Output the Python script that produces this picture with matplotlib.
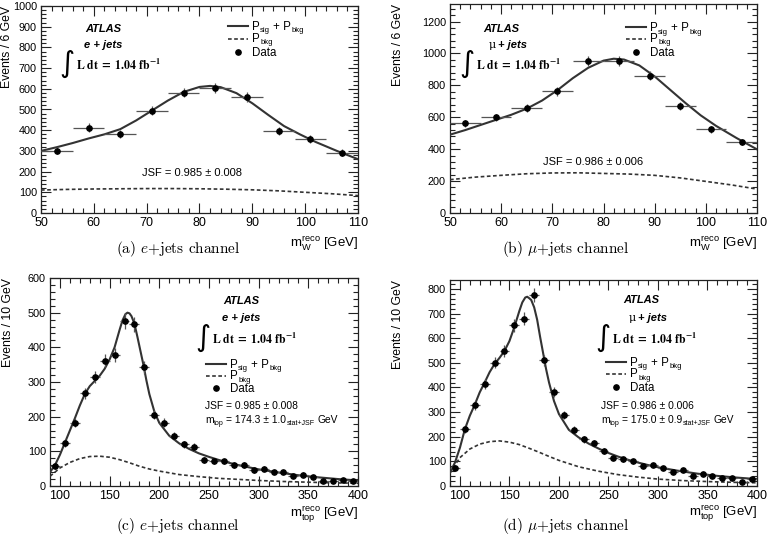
import numpy as np
import matplotlib
matplotlib.use("Agg")
import matplotlib.pyplot as plt
from matplotlib.lines import Line2D
from matplotlib.ticker import MultipleLocator

plt.rcParams['font.family'] = ['Liberation Sans', 'DejaVu Sans']
plt.rcParams['mathtext.fontset'] = 'custom'
plt.rcParams['mathtext.rm'] = 'Liberation Sans'
plt.rcParams['mathtext.it'] = 'Liberation Sans:italic'
plt.rcParams['mathtext.bf'] = 'Liberation Sans:bold'

# ---------------- data ----------------
# (a) e+jets, m_W
w_x = [53, 59, 65, 71, 77, 83, 89, 95, 101, 107]
a_data = [300, 413, 380, 495, 582, 603, 562, 395, 357, 290]
a_err = [17, 20, 19, 22, 24, 25, 24, 20, 19, 17]
w_fit_x = [50, 53, 56, 59, 62, 65, 68, 71, 74, 77, 80, 82, 84, 87, 90, 93, 96, 99, 102, 106, 110]
a_fit = [300, 318, 338, 360, 380, 405, 447, 495, 543, 585, 609, 614, 608, 579, 530, 474, 420, 380, 343, 300, 260]
w_bkg_x = [50, 55, 60, 65, 70, 75, 80, 85, 90, 95, 100, 105, 110]
a_bkg = [111, 114, 116, 117, 118, 118, 117, 115, 112, 107, 100, 93, 84]

# (b) mu+jets, m_W
b_data = [562, 599, 656, 762, 954, 954, 860, 672, 524, 445]
b_err = [24, 24, 26, 28, 31, 31, 29, 26, 23, 21]
b_fit = [491, 520, 552, 584, 616, 654, 705, 770, 845, 910, 955, 967, 962, 925, 856, 773, 690, 612, 546, 470, 399]
b_bkg = [209, 225, 236, 246, 251, 252, 248, 244, 236, 220, 198, 176, 150]

# (c) e+jets, m_top
t_x = [95, 105, 115, 125, 135, 145, 155, 165, 175, 185, 195, 205, 215, 225, 235, 245,
       255, 265, 275, 285, 295, 305, 315, 325, 335, 345, 355, 365, 375, 385, 395]
c_data = [57, 124, 183, 267, 314, 361, 378, 476, 466, 343, 206, 182, 144, 120, 113, 76,
          71, 71, 60, 60, 45, 50, 41, 40, 29, 33, 27, 14, 14, 17, 13]
c_err = [8, 11, 14, 16, 18, 19, 19, 22, 22, 19, 14, 13, 12, 11, 11, 9,
         8, 8, 8, 8, 7, 7, 6, 6, 5, 6, 5, 4, 4, 4, 4]
t_fit_x = [90, 95, 100, 105, 110, 115, 120, 125, 130, 135, 140, 145, 150, 155, 160, 163,
           166, 168, 170, 172, 175, 178, 181, 184, 187, 190, 195, 200, 210, 220, 230, 240,
           250, 260, 270, 280, 290, 300, 320, 340, 360, 380, 400]
c_fit = [40, 60, 90, 125, 160, 195, 232, 265, 288, 303, 318, 338, 365, 400, 450, 478,
         496, 500, 498, 490, 468, 430, 390, 350, 305, 265, 215, 182, 145, 123, 107, 94,
         84, 75, 67, 60, 54, 48, 39, 31, 25, 20, 16]
t_bkg_x = [90, 95, 100, 110, 120, 130, 140, 150, 160, 170, 180, 190, 200, 220, 240, 260,
           280, 300, 325, 350, 375, 400]
c_bkg = [28, 40, 52, 68, 79, 85, 86, 83, 76, 67, 57, 49, 43, 33, 27, 22, 19, 16, 13, 11, 9, 8]

# (d) mu+jets, m_top
d_data = [74, 231, 328, 415, 500, 548, 653, 679, 774, 510, 382, 287, 229, 190, 173, 143,
          115, 109, 101, 82, 85, 72, 55, 65, 42, 50, 39, 31, 31, 18, 27]
d_err = [9, 15, 18, 20, 22, 23, 26, 26, 28, 23, 20, 17, 15, 14, 13, 12,
         11, 10, 10, 9, 9, 8, 7, 8, 6, 7, 6, 6, 6, 4, 5]
d_fit = [55, 95, 155, 230, 285, 330, 380, 420, 462, 495, 520, 548, 588, 645, 710, 745,
         765, 768, 762, 755, 725, 675, 605, 540, 475, 420, 345, 292, 228, 197, 172, 152,
         134, 119, 106, 95, 85, 76, 62, 50, 41, 34, 28]
d_bkg = [52, 85, 115, 150, 170, 180, 183, 178, 168, 153, 137, 120, 104, 78, 60, 46,
         36, 28, 22, 18, 15, 13]

W = 768.0
H = 537.0
fig = plt.figure(figsize=(7.68, 5.37), dpi=100)
renderer = fig.canvas.get_renderer()


def px_axes(l, t, r, b):
    return fig.add_axes([l / W, 1 - b / H, (r - l) / W, (b - t) / H])


def ftext(x, y, s, **kw):
    return fig.text(x / W, 1 - y / H, s, **kw)


def ctext(x, y, pieces):
    """pieces: (string, fontsize, dy_px, gap_px) placed left to right on a baseline."""
    cx = x
    for s, size, dy, gap in pieces:
        cx += gap
        t = ftext(cx, y + dy, s, fontsize=size, ha='left', va='baseline')
        cx += t.get_window_extent(renderer).width


LC = '#333333'
DASH = (0, (2.2, 1.5))
MS = 3.8
LF = 8.3
LS = 5.6


def style(ax, xmaj, xmin, ymaj, ymin):
    ax.xaxis.set_major_locator(MultipleLocator(xmaj))
    ax.xaxis.set_minor_locator(MultipleLocator(xmin))
    ax.yaxis.set_major_locator(MultipleLocator(ymaj))
    ax.yaxis.set_minor_locator(MultipleLocator(ymin))
    ax.tick_params(which='both', direction='in', top=True, right=True,
                   width=0.8, color='#222222')
    ax.tick_params(axis='x', which='major', labelsize=9)
    ax.tick_params(axis='y', which='major', labelsize=7.8)
    ax.tick_params(which='major', length=7, pad=3)
    ax.tick_params(which='minor', length=3.5)
    for s in ax.spines.values():
        s.set_linewidth(0.9)
        s.set_color('#222222')


def draw(ax, x, data, err, xerr, fx, fy, bx, by):
    ax.plot(fx, fy, '-', color=LC, lw=1.5, zorder=3)
    ax.plot(bx, by, color=LC, lw=1.2, ls=DASH, zorder=3)
    ax.errorbar(x, data, yerr=err, xerr=xerr, fmt='o', ms=MS, color='black',
                ecolor='#555555', elinewidth=0.9, capsize=0, zorder=4)


def legend(x0, ys):
    fig.add_artist(Line2D([x0 / W, (x0 + 20) / W], [1 - ys[0] / H] * 2,
                          transform=fig.transFigure, color=LC, lw=1.5))
    fig.add_artist(Line2D([x0 / W, (x0 + 20) / W], [1 - ys[1] / H] * 2,
                          transform=fig.transFigure, color=LC, lw=1.2, ls=DASH))
    fig.add_artist(Line2D([(x0 + 10) / W], [1 - ys[2] / H],
                          transform=fig.transFigure, color='black', marker='o',
                          ms=MS, ls='none'))
    ctext(x0 + 24, ys[0] + 4, [('P', LF, 0, 0), ('sig', LS, 2.5, 0.3),
                               ('+ P', LF, 0, 3), ('bkg', LS, 2.5, 0.3)])
    ctext(x0 + 24, ys[1] + 3, [('P', LF, 0, 0), ('bkg', LS, 2.5, 0.3)])
    ctext(x0 + 24, ys[2] + 4, [('Data', LF, 0, 0)])


def mtop_text(x, y, val, err):
    ctext(x, y, [('m', 7.4, 0, 0), ('top', 5, 2.2, 0.3),
                 ('= ' + val + ' ± ' + err, 7.4, 0, 2.5),
                 ('stat+JSF', 5, 2.2, 0.3), ('GeV', 7.4, 0, 3)])


def atlas_block(xc, y_atlas, y_ch, chan_mu, x_int, y_int):
    ftext(xc, y_atlas, 'ATLAS', fontsize=8, fontweight='bold', style='italic',
          ha='center', va='center')
    if chan_mu:
        ftext(xc - 5, y_ch, 'μ', fontsize=8, family='DejaVu Serif', ha='right', va='center')
        ftext(xc - 3, y_ch, '+ jets', fontsize=8, fontweight='bold', style='italic',
              ha='left', va='center')
    else:
        ftext(xc, y_ch, 'e + jets', fontsize=8, fontweight='bold', style='italic',
              ha='center', va='center')
    ftext(x_int + 3.5, y_int, '∫', fontsize=21, family='DejaVu Sans', ha='right', va='center')
    ftext(x_int + 4.5, y_int + 1, r'$\mathbf{L\ dt\ =\ 1.04\ fb^{-1}}$', fontsize=8.5,
          math_fontfamily='stix', ha='left', va='center')


cap_kw = dict(family='cmr10', math_fontfamily='cm', fontsize=11, ha='center', va='center')
YL = 8.8

# ---------------- (a) ----------------
ax = px_axes(41, 6, 358, 213)
draw(ax, w_x, a_data, a_err, 3, w_fit_x, a_fit, w_bkg_x, a_bkg)
ax.set_xlim(50, 110)
ax.set_ylim(0, 1000)
style(ax, 10, 2, 100, 20)
ax.set_ylabel('Events / 6 GeV', loc='top', fontsize=YL)
ax.yaxis.set_label_coords(-0.087, 1.0)
ax.set_xlabel(r'm$_{\rm W}^{\rm reco}$ [GeV]', loc='right', fontsize=9.5)
ax.xaxis.set_label_coords(1.0, -0.10)
legend(228, [26, 39, 52])
atlas_block(103, 29, 45, False, 71, 64)
ftext(192, 173, 'JSF = 0.985 ± 0.008', fontsize=8, ha='center', va='center')
ftext(178, 249, r'(a) $e$+jets channel', **cap_kw)

# ---------------- (b) ----------------
ax = px_axes(450, 4, 757, 213)
draw(ax, w_x, b_data, b_err, 3, w_fit_x, b_fit, w_bkg_x, b_bkg)
ax.set_xlim(50, 110)
ax.set_ylim(0, 1310)
style(ax, 10, 2, 200, 40)
ax.set_ylabel('Events / 6 GeV', loc='top', fontsize=YL)
ax.yaxis.set_label_coords(-0.15, 1.0)
ax.set_xlabel(r'm$_{\rm W}^{\rm reco}$ [GeV]', loc='right', fontsize=9.5)
ax.xaxis.set_label_coords(1.0, -0.10)
legend(626, [27, 39, 52])
atlas_block(501, 29, 45, True, 471, 64)
ftext(593, 162, 'JSF = 0.986 ± 0.006', fontsize=8, ha='center', va='center')
ftext(566, 249, r'(b) $\mu$+jets channel', **cap_kw)

# ---------------- (c) ----------------
ax = px_axes(50, 278, 358, 486)
draw(ax, t_x, c_data, c_err, 5, t_fit_x, c_fit, t_bkg_x, c_bkg)
ax.set_xlim(90, 400)
ax.set_ylim(0, 600)
style(ax, 50, 10, 100, 20)
ax.set_ylabel('Events / 10 GeV', loc='top', fontsize=YL)
ax.yaxis.set_label_coords(-0.117, 1.0)
ax.set_xlabel(r'm$_{\rm top}^{\rm reco}$ [GeV]', loc='right', fontsize=9.5)
ax.xaxis.set_label_coords(1.0, -0.085)
legend(206, [364, 376, 388])
atlas_block(241, 301, 318, False, 207, 338)
ftext(205, 406, 'JSF = 0.985 ± 0.008', fontsize=7.4, ha='left', va='center')
mtop_text(205, 423, '174.3', '1.0')
ftext(178, 526, r'(c) $e$+jets channel', **cap_kw)

# ---------------- (d) ----------------
ax = px_axes(450, 280, 757, 486)
draw(ax, t_x, d_data, d_err, 5, t_fit_x, d_fit, t_bkg_x, d_bkg)
ax.set_xlim(90, 400)
ax.set_ylim(0, 836)
style(ax, 50, 10, 100, 20)
ax.set_ylabel('Events / 10 GeV', loc='top', fontsize=YL)
ax.yaxis.set_label_coords(-0.15, 1.0)
ax.set_xlabel(r'm$_{\rm top}^{\rm reco}$ [GeV]', loc='right', fontsize=9.5)
ax.xaxis.set_label_coords(1.0, -0.085)
legend(606, [362, 374, 387])
atlas_block(641, 300, 318, True, 607, 338)
ftext(601, 406, 'JSF = 0.986 ± 0.006', fontsize=7.4, ha='left', va='center')
mtop_text(601, 423, '175.0', '0.9')
ftext(566, 526, r'(d) $\mu$+jets channel', **cap_kw)

fig.savefig('out.png', dpi=100)
